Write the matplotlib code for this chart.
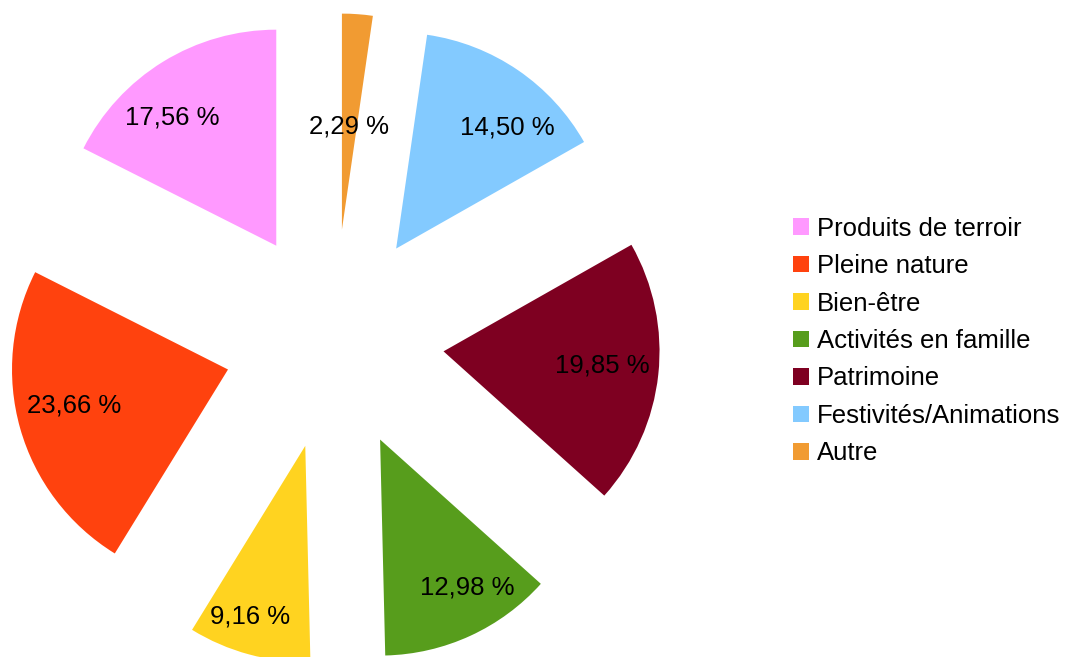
import numpy as np
import matplotlib
matplotlib.use("Agg")
import matplotlib.pyplot as plt

plt.rcParams["font.family"] = ["Liberation Sans", "DejaVu Sans"]

# Share of answers per category (%)
categories = [
    "Produits de terroir",
    "Pleine nature",
    "Bien-être",
    "Activités en famille",
    "Patrimoine",
    "Festivités/Animations",
    "Autre",
]
shares = [17.56, 23.66, 9.16, 12.98, 19.85, 14.50, 2.29]
colors = ["#ff99ff", "#ff420e", "#ffd320", "#579d1c",
          "#7e0021", "#83caff", "#f19b32"]

# Where each percentage label sits: distance from pie centre (pie units)
# and a small angle shift (deg) from the slice's middle
label_radius = [1.274, 1.242, 1.342, 1.304, 1.247, 1.269, 0.99]
label_shift = [4.5, -1.6, -1.7, 3.5, 0.7, -4.85, 0.0]

# Pixel geometry of the figure
W, H = 1070, 657
cx, cy = 334, 339.5
scale = 216.0

fig = plt.figure(figsize=(W / 100, H / 100), dpi=100)
ax = fig.add_axes([0, 0, 1, 1])

wedges, _ = ax.pie(
    shares,
    colors=colors,
    startangle=90,
    counterclock=True,
    explode=[0.51] * len(shares),
    radius=1,
    wedgeprops=dict(linewidth=0),
)

# Percentage labels, French decimal comma
for w, val, r, sh in zip(wedges, shares, label_radius, label_shift):
    mid = np.deg2rad((w.theta1 + w.theta2) / 2 + sh)
    txt = f"{val:.2f}".replace(".", ",") + " %"
    ax.text(
        r * np.cos(mid),
        r * np.sin(mid),
        txt,
        ha="center",
        va="center",
        fontsize=18.5,
        color="black",
    )

ax.set_xlim(-cx / scale, (W - cx) / scale)
ax.set_ylim(-(H - cy) / scale, cy / scale)
ax.set_aspect("auto")
ax.axis("off")

fig.legend(
    wedges,
    categories,
    loc="center left",
    bbox_to_anchor=(793 / W, 1 - 341 / H),
    frameon=False,
    fontsize=18.5,
    handlelength=0.62,
    handleheight=0.62,
    handletextpad=0.31,
    labelspacing=0.525,
    borderpad=0,
    borderaxespad=0,
)

fig.savefig("out.png", dpi=100)
